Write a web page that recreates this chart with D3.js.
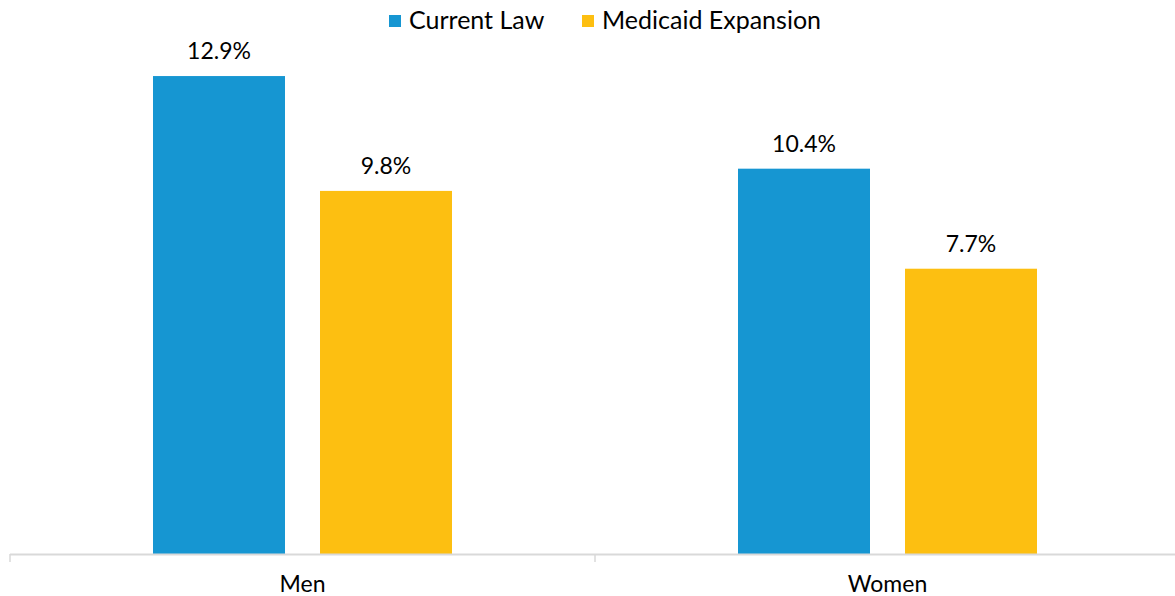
<!DOCTYPE html>
<html><head><meta charset="utf-8">
<script src="https://cdn.jsdelivr.net/npm/d3@7"></script>
<style>
body{margin:0;background:#fff;}
svg{display:block;font-family:Lato,"Open Sans",sans-serif;}
</style></head>
<body>
<svg id="chart" width="1175" height="596"></svg>
<script>
const categories = ["Men", "Women"];
const seriesNames = ["Current Law", "Medicaid Expansion"];
const currentLaw = [12.9, 10.4];
const medicaidExpansion = [9.8, 7.7];
const colors = ["#1696d2", "#fdbf11"];

const svg = d3.select("#chart");
const baseY = 554;
const x0 = d3.scaleBand().domain(categories).range([10, 1180]).paddingInner(0).paddingOuter(0);
const bw = x0.bandwidth();
const x1 = d3.scaleBand().domain(seriesNames).range([bw/2 - 149.5, bw/2 + 149.5]).paddingInner(0.2096).paddingOuter(0);
const y = d3.scaleLinear().domain([0, 14]).range([baseY, baseY - 14*37.05]);

const data = categories.map((c, i) => ({cat: c, vals: [currentLaw[i], medicaidExpansion[i]]}));

const g = svg.selectAll("g.cat").data(data).enter().append("g")
  .attr("transform", d => `translate(${x0(d.cat)},0)`);

g.selectAll("rect").data(d => d.vals.map((v, j) => ({s: seriesNames[j], v, j})))
  .enter().append("rect")
  .attr("x", d => x1(d.s))
  .attr("width", x1.bandwidth())
  .attr("y", d => y(d.v))
  .attr("height", d => y(0) - y(d.v))
  .attr("fill", d => colors[d.j]);

g.selectAll("text.val").data(d => d.vals.map((v, j) => ({s: seriesNames[j], v, j})))
  .enter().append("text").attr("class", "val")
  .attr("x", d => x1(d.s) + x1.bandwidth()/2)
  .attr("y", d => y(d.v) - 17)
  .attr("text-anchor", "middle")
  .attr("font-size", 23)
  .attr("fill", "#000")
  .text(d => d.v.toFixed(1) + "%");

// axis
svg.append("line").attr("x1", 10).attr("x2", 1175).attr("y1", baseY + 0.5).attr("y2", baseY + 0.5)
  .attr("stroke", "#d9d9d9").attr("stroke-width", 2);
const tickXs = categories.map(c => x0(c)).concat([x0.range()[1]]);
svg.selectAll("line.tk").data(tickXs).enter().append("line").attr("class", "tk")
  .attr("x1", d => d).attr("x2", d => d).attr("y1", baseY).attr("y2", baseY + 8)
  .attr("stroke", "#d9d9d9").attr("stroke-width", 1.5);
svg.selectAll("text.cat").data(categories).enter().append("text").attr("class", "cat")
  .attr("x", d => x0(d) + bw/2).attr("y", 592)
  .attr("text-anchor", "middle").attr("font-size", 23).attr("fill", "#000")
  .text(d => d);

// legend
const legendX = [389, 582];
const lg = svg.selectAll("g.lg").data(seriesNames).enter().append("g").attr("class", "lg")
  .attr("transform", (d, i) => `translate(${legendX[i]},0)`);
lg.append("rect").attr("x", 0).attr("y", 15).attr("width", 12).attr("height", 12)
  .attr("fill", (d, i) => colors[i]);
lg.append("text").attr("x", 20).attr("y", 29).attr("font-size", 25).attr("fill", "#000")
  .text(d => d);
</script>
</body></html>
